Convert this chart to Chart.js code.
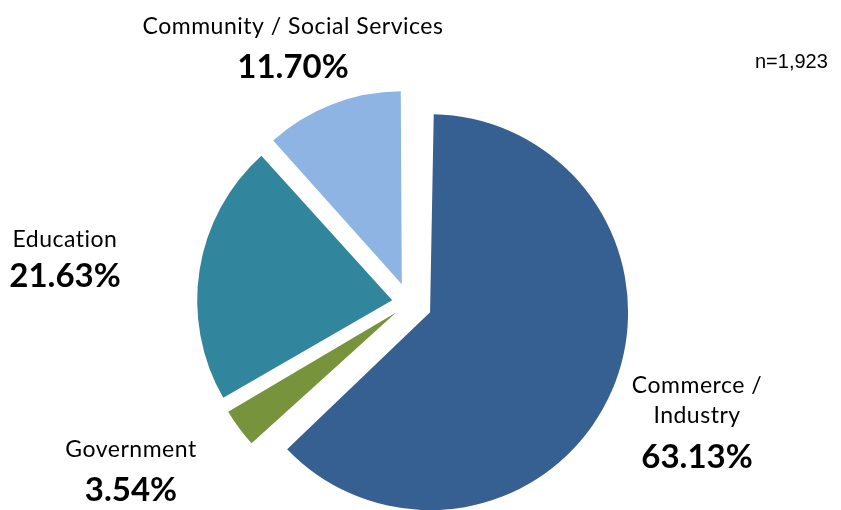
<!DOCTYPE html>
<html>
<head>
<meta charset="utf-8">
<script src="https://cdn.jsdelivr.net/npm/chart.js@4.4.0/dist/chart.umd.min.js"></script>
<style>
  html, body { margin: 0; padding: 0; background: #fff; }
  canvas { display: block; }
</style>
</head>
<body>
<canvas id="chart" width="841" height="510"></canvas>
<script>
const categories = [['Commerce /', 'Industry'], 'Government', 'Education', 'Community / Social Services'];
const shares = [63.13, 3.54, 21.63, 11.70];
const sliceColors = ['#376092', '#77933C', '#31859C', '#8EB4E3'];
const sampleNote = 'n=1,923';

// label anchor: centre x, baseline of the name's first line, baseline of the value
const labelSpots = [
  { x: 697, nameY: 393, valueY: 468 },
  { x: 131, nameY: 457, valueY: 501 },
  { x: 65, nameY: 247, valueY: 287 },
  { x: 293, nameY: 34, valueY: 78 }
];

// per-slice pull-out distance and radius, in px
const sliceExplode = [23, 16, 17, 20];
const sliceRadius = [198, 195, 195, 193];

// Chart.js grows an offset arc's radius as well as moving it; undo that growth
const evenExplode = {
  id: 'evenExplode',
  afterDatasetUpdate(chart, args) {
    args.meta.data.forEach((arc, i) => {
      const fix = 1 - Math.sin(Math.min(Math.PI, arc.circumference));
      arc.outerRadius = sliceRadius[i] - sliceExplode[i] * fix;
    });
  }
};

const sliceLabels = {
  id: 'sliceLabels',
  afterDraw(chart) {
    const ctx = chart.ctx;
    ctx.save();
    ctx.fillStyle = '#000';
    ctx.textAlign = 'center';
    ctx.textBaseline = 'alphabetic';
    labelSpots.forEach((spot, i) => {
      const lines = [].concat(categories[i]);
      ctx.font = '23px Lato';
      ctx.letterSpacing = '0.5px';
      lines.forEach((line, k) => ctx.fillText(line, spot.x, spot.nameY + k * 30));
      ctx.letterSpacing = '0px';
      ctx.font = 'bold 33px Lato';
      ctx.fillText(shares[i].toFixed(2) + '%', spot.x, spot.valueY);
    });
    ctx.font = '20px "Liberation Sans"';
    ctx.textAlign = 'left';
    ctx.fillText(sampleNote, 755, 68);
    ctx.restore();
  }
};

new Chart(document.getElementById('chart'), {
  type: 'pie',
  data: {
    labels: categories,
    datasets: [{
      data: shares,
      backgroundColor: sliceColors,
      borderWidth: 0,
      offset: sliceExplode.map(d => d * 4)
    }]
  },
  options: {
    responsive: false,
    animation: false,
    radius: 198,
    layout: { padding: { left: 0, right: 23, top: 96, bottom: 0 } },
    plugins: {
      legend: { display: false },
      tooltip: { enabled: false }
    },
    events: []
  },
  plugins: [evenExplode, sliceLabels]
});
</script>
</body>
</html>
